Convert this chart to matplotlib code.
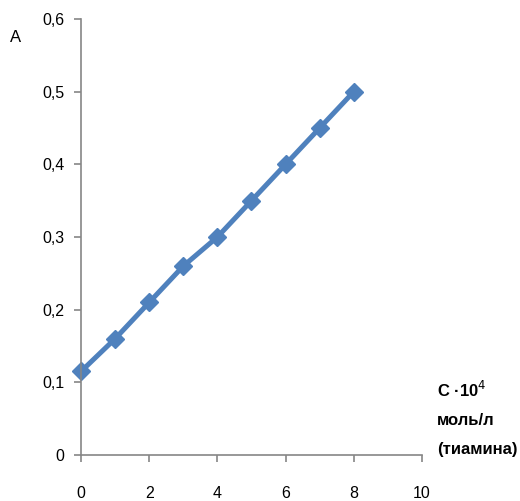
import matplotlib
matplotlib.use("Agg")
import matplotlib.pyplot as plt
from matplotlib.ticker import FuncFormatter

plt.rcParams['font.family'] = ['Liberation Sans', 'DejaVu Sans']

# Калибровочный график: концентрация тиамина и оптическая плотность
conc = [0, 1, 2, 3, 4, 5, 6, 7, 8]
absorb = [0.115, 0.16, 0.21, 0.26, 0.30, 0.35, 0.40, 0.45, 0.50]
xticks = [0, 2, 4, 6, 8, 10]
yticks = [0, 0.1, 0.2, 0.3, 0.4, 0.5, 0.6]

fig = plt.figure(figsize=(5.2, 5.01), dpi=100)
ax = fig.add_axes([0.1558, 0.0918, 0.6557, 0.8703])

ax.plot(conc, absorb, color="#4F81BD", lw=3.6, marker="D", ms=9,
        mec="#4F81BD", mfc="#4F81BD", clip_on=False)

ax.set_xlim(0, 10)
ax.set_ylim(0, 0.6)
ax.set_xticks(xticks)
ax.set_yticks(yticks)
ax.yaxis.set_major_formatter(FuncFormatter(lambda v, p: ("%g" % round(v, 1)).replace(".", ",")))

gray = "#868686"
for s in ["top", "right"]:
    ax.spines[s].set_visible(False)
for s in ["left", "bottom"]:
    ax.spines[s].set_color(gray)
    ax.spines[s].set_linewidth(1.2)

ax.tick_params(axis="both", colors=gray, length=5, width=1.2, labelsize=11.5,
               labelcolor="black")
ax.tick_params(axis="x", pad=17)
ax.tick_params(axis="y", pad=7)

fig.text(0.03, 0.925, "A", fontsize=12, ha="center", va="center")
fig.text(0.840, 0.165, "С ·10$^4$\nмоль/л\n(тиамина)", fontsize=12,
         fontweight="bold", ha="left", va="center", linespacing=2.1)

fig.savefig("out.png", dpi=100)
